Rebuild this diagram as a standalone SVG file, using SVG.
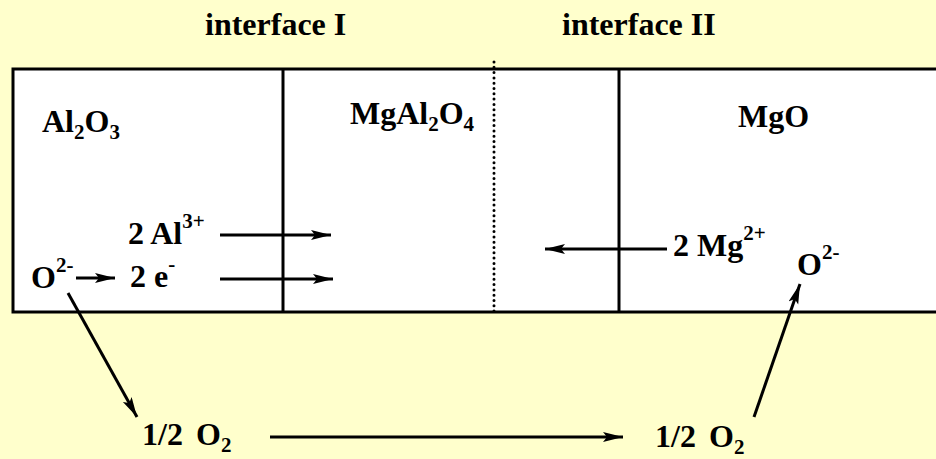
<svg xmlns="http://www.w3.org/2000/svg" width="936" height="459" viewBox="0 0 936 459">
<style>
text{font-family:"Liberation Serif","Tinos","Times New Roman",Times,"DejaVu Serif","Noto Serif",serif;font-weight:bold;font-size:32px;fill:#000}
.s{font-size:21px}
.ln{stroke:#000;stroke-width:3;fill:none}
.ar{stroke:#000;stroke-width:3;fill:none;marker-end:url(#ah)}
</style>
<defs>
<marker id="ah" markerUnits="userSpaceOnUse" markerWidth="22" markerHeight="12" refX="20" refY="5" orient="auto" viewBox="0 0 22 12">
<path d="M0,0 L20,5 L0,10 L4,5 Z" fill="#000"/>
</marker>
</defs>
<rect width="936" height="459" fill="#FFFFCC"/>
<g id="box">
<rect x="13" y="69" width="940" height="243" fill="#fff" stroke="#000" stroke-width="3"/>
<line class="ln" x1="283" y1="69" x2="283" y2="312"/>
<line class="ln" x1="619" y1="69" x2="619" y2="312"/>
<line x1="494" y1="62" x2="494" y2="312" stroke="#000" stroke-width="3" stroke-linecap="round" stroke-dasharray="0 5.3"/>
</g>
<g id="headers">
<text x="205" y="35">interface I</text>
<text x="562" y="35">interface II</text>
</g>
<g id="al2o3"><text x="42" y="132">Al<tspan class="s" dy="7">2</tspan><tspan dy="-7">O</tspan><tspan class="s" dy="7">3</tspan></text></g>
<g id="mgal2o4"><text x="350" y="124">MgAl<tspan class="s" dy="7">2</tspan><tspan dy="-7">O</tspan><tspan class="s" dy="7">4</tspan></text></g>
<g id="mgo"><text x="738" y="127">MgO</text></g>
<g id="al3"><text x="128" y="244">2 Al<tspan class="s" dy="-16">3+</tspan></text></g>
<g id="e"><text x="130" y="287">2 e<tspan class="s" dy="-16">-</tspan></text></g>
<g id="o2left"><text x="31" y="288">O<tspan class="s" dy="-16">2-</tspan></text></g>
<g id="mg2"><text x="673" y="256">2 Mg<tspan class="s" dy="-16">2+</tspan></text></g>
<g id="o2right"><text x="797" y="275">O<tspan class="s" dy="-16">2-</tspan></text></g>
<g id="o2gasleft"><text x="142" y="445">1/2 <tspan x="196">O</tspan><tspan class="s" dy="7">2</tspan></text></g>
<g id="o2gasright"><text x="655" y="447">1/2 <tspan x="709">O</tspan><tspan class="s" dy="7">2</tspan></text></g>
<g id="connectors">
<line class="ar" x1="220" y1="235" x2="331" y2="235"/>
<line class="ar" x1="220" y1="279" x2="333" y2="279"/>
<line class="ar" x1="76" y1="278" x2="115" y2="278"/>
<line class="ar" x1="667" y1="249" x2="545" y2="249"/>
<line class="ar" x1="68" y1="293" x2="137" y2="417"/>
<line class="ar" x1="270" y1="437" x2="623" y2="437"/>
<line class="ar" x1="754" y1="417" x2="800" y2="284"/>
</g>
</svg>
